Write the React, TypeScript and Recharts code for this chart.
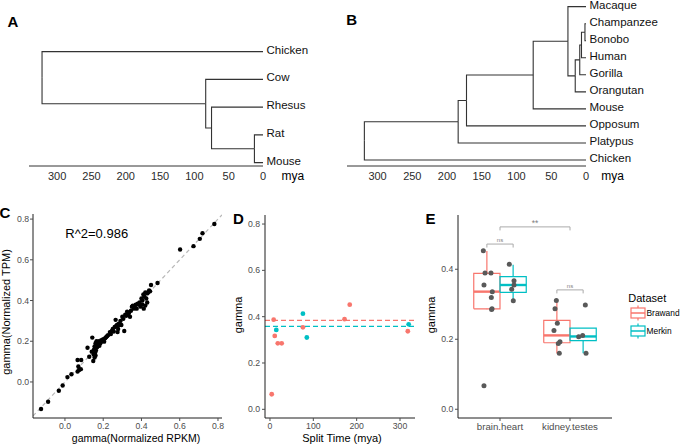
import {ComposedChart, Line, Scatter, XAxis, YAxis} from 'recharts';

const FONT = '"Liberation Sans", Arial, Helvetica, sans-serif';
const RED = '#F8766D';
const TEAL = '#00BFC4';
const AXIS = '#1f1f1f';
const TICK = '#4D4D4D';

// ---- panel A: tree (hclust-style merges, negative = tip, positive = earlier merge)
const treeATips = ['Chicken', 'Cow', 'Rhesus', 'Rat', 'Mouse'];
const treeAMerges = [[-4, -5], [-3, 1], [-2, 2], [-1, 3]];
const treeAHeights = [12.5, 75, 83.5, 322];

// ---- panel B: tree
const treeBTips = ['Macaque', 'Champanzee', 'Bonobo', 'Human', 'Gorilla', 'Orangutan', 'Mouse', 'Opposum', 'Platypus', 'Chicken'];
const treeBMerges = [[-2, -3], [-4, 1], [-5, 2], [-6, 3], [-1, 4], [-7, 5], [-8, 6], [-9, 7], [-10, 8]];
const treeBHeights = [1.5, 6.5, 9, 15.5, 26, 76, 172, 184, 319];

const treeTicks = [0, 50, 100, 150, 200, 250, 300];

// ---- panel C: gamma from RPKM vs TPM
const cRpkm = [
    -0.125, -0.088, -0.032, -0.012, 0.013, 0.034, 0.066, 0.085, 0.07, 0.074, 0.083, 0.066,
    0.118, 0.127, 0.143, 0.148, 0.14, 0.15, 0.152, 0.155, 0.158, 0.16, 0.162, 0.165, 0.168, 0.17,
    0.175, 0.178, 0.18, 0.185, 0.19, 0.195, 0.2, 0.205, 0.21, 0.215, 0.22, 0.225, 0.155, 0.16,
    0.235, 0.24, 0.245, 0.25, 0.255, 0.26, 0.265, 0.268, 0.272, 0.275, 0.278, 0.28, 0.285, 0.29,
    0.295, 0.3, 0.305, 0.31, 0.315, 0.32,
    0.325, 0.33, 0.335, 0.34, 0.345, 0.35, 0.355, 0.36, 0.365, 0.37, 0.375, 0.38, 0.385, 0.39,
    0.395, 0.4, 0.405, 0.41, 0.412, 0.415, 0.42, 0.425, 0.43, 0.435, 0.44, 0.445, 0.45, 0.43, 0.42, 0.405,
    0.484, 0.602, 0.672, 0.705, 0.719, 0.781,
];
const cTpm = [
    -0.133, -0.097, -0.043, -0.017, 0.024, 0.038, 0.108, 0.108, 0.076, 0.059, 0.063, 0.051,
    0.168, 0.124, 0.218, 0.103, 0.149, 0.135, 0.16, 0.175, 0.145, 0.19, 0.155, 0.2, 0.17, 0.185,
    0.195, 0.2, 0.178, 0.19, 0.205, 0.2, 0.21, 0.198, 0.215, 0.22, 0.225, 0.23, 0.12, 0.13,
    0.245, 0.235, 0.25, 0.26, 0.248, 0.27, 0.305, 0.275, 0.28, 0.245, 0.26, 0.285, 0.28, 0.3,
    0.28, 0.32, 0.31, 0.25, 0.33, 0.325,
    0.345, 0.33, 0.34, 0.32, 0.35, 0.37, 0.375, 0.36, 0.37, 0.38, 0.36, 0.385, 0.38, 0.39,
    0.37, 0.41, 0.4, 0.43, 0.36, 0.42, 0.44, 0.41, 0.435, 0.44, 0.45, 0.445, 0.476, 0.39, 0.375, 0.38,
    0.486, 0.651, 0.667, 0.703, 0.731, 0.776,
];
const cFitSlope = 1;
const cFitIntercept = 0;

// ---- panel D: gamma vs split time
const dBrawandSplit = [4, 8.5, 11, 18, 27, 76, 172, 184, 318];
const dBrawandGamma = [0.065, 0.387, 0.317, 0.285, 0.285, 0.354, 0.389, 0.452, 0.337];
const dMerkinSplit = [14.5, 76, 85, 320];
const dMerkinGamma = [0.343, 0.413, 0.31, 0.367];
const dMeans = [0.384, 0.358]; // Brawand, Merkin

// ---- panel E: boxplots (order: brain.heart Brawand, brain.heart Merkin, kidney.testes Brawand, kidney.testes Merkin)
const eCats = ['brain.heart', 'kidney.testes'];
const eDatasets = ['Brawand', 'Merkin'];
const eMin = [0.286, 0.308, 0.16, 0.16];
const eQ1 = [0.287, 0.334, 0.19, 0.196];
const eMedian = [0.336, 0.355, 0.211, 0.208];
const eQ3 = [0.388, 0.379, 0.254, 0.232];
const eMax = [0.452, 0.413, 0.311, 0.232];
const eJitterX = [0.762, 0.786, 0.871, 0.771, 0.89, 0.876, 0.886, 0.88, 0.771,
    1.133, 1.2, 1.167, 1.19, 1.2,
    1.805, 1.786, 1.819, 1.771, 1.857, 1.833, 1.847,
    2.219, 2.181, 2.124, 2.229];
const eJitterY = [0.453, 0.389, 0.389, 0.355, 0.336, 0.319, 0.287, 0.285, 0.067,
    0.414, 0.367, 0.343, 0.31, 0.355,
    0.311, 0.287, 0.246, 0.225, 0.193, 0.188, 0.16,
    0.298, 0.211, 0.207, 0.16];
const eCompareX1 = [1, 0.8125, 1.8125];
const eCompareX2 = [2, 1.1875, 2.1875];
const eCompareY = [0.521, 0.472, 0.341];
const eCompareLabel = ['**', 'ns', 'ns'];

type Pt = {x: number; y: number};

function buildTree(tips: string[], merges: number[][], heights: number[]): Pt[][] {
    const n = tips.length;
    const nodeY: number[] = [];
    const segs: Pt[][] = [];
    merges.forEach((pair, k) => {
        const h = heights[k];
        const kids = pair.map((c) => (c < 0 ? {y: n + c + 1, h: 0} : {y: nodeY[c - 1], h: heights[c - 1]}));
        const mid = (kids[0].y + kids[1].y) / 2;
        kids.forEach((kd) => segs.push([{x: h, y: mid}, {x: h, y: kd.y}, {x: kd.h, y: kd.y}]));
        nodeY.push(mid);
    });
    return segs;
}

function Txt({x, y, size, children, color = '#000', bold = false, rotate = false, anchor = 'middle'}: any) {
    const tx = anchor === 'middle' ? '-50%' : anchor === 'start' ? '0%' : '-100%';
    return (
        <div
            style={{
                position: 'absolute',
                left: x,
                top: y,
                fontSize: size,
                color,
                fontWeight: bold ? 700 : 400,
                whiteSpace: 'nowrap',
                lineHeight: 1,
                transform: `translate(${tx}, -50%)${rotate ? ' rotate(-90deg)' : ''}`,
            }}
        >
            {children}
        </div>
    );
}

const dot = (r: number, fill: string) => (p: any) => <circle cx={p.cx} cy={p.cy} r={r} fill={fill}/>;

function TreePanel({tips, merges, heights, left, width, margin, yAxisWidth, xMax, yDomain}: any) {
    const segs = buildTree(tips, merges, heights);
    const n = tips.length;
    const ticks = tips.map((_: string, i: number) => n - i);
    return (
        <div style={{position: 'absolute', left, top: 0}}>
            <ComposedChart width={width} height={200} margin={margin}>
                <XAxis type="number" dataKey="x" domain={[0, xMax]} reversed allowDataOverflow ticks={treeTicks}
                       interval={0} height={34} tickLine={false} tickSize={4} tickMargin={2}
                       axisLine={{stroke: '#333'}} tick={{fill: '#2b2b2b', fontSize: 11}}/>
                <YAxis type="number" dataKey="y" orientation="right" domain={yDomain} allowDataOverflow
                       ticks={ticks} interval={0} tickFormatter={(v: number) => tips[n - v]}
                       axisLine={false} tickLine={false} tickSize={2} tickMargin={1.5} width={yAxisWidth}
                       tick={{fill: '#111', fontSize: 11.5, dy: -2}}/>
                {segs.map((s, i) => (
                    <Line key={i} data={s} dataKey="y" type="linear" stroke="#333" strokeWidth={1.1}
                          dot={false} activeDot={false} isAnimationActive={false}/>
                ))}
            </ComposedChart>
        </div>
    );
}

export default function App() {
    const cPoints = cRpkm.map((x, i) => ({x, y: cTpm[i]}));
    const cX: [number, number] = [-0.167, 0.821];
    const cDiag = cX.map((x) => ({x, y: cFitIntercept + cFitSlope * x}));

    const dX: [number, number] = [-11.5, 334.6];
    const dBrawand = dBrawandSplit.map((x, i) => ({x, y: dBrawandGamma[i]}));
    const dMerkin = dMerkinSplit.map((x, i) => ({x, y: dMerkinGamma[i]}));

    const half = 0.1875;
    const eBoxes = eMin.map((_, k) => {
        const center = Math.floor(k / 2) + 1 + (k % 2 ? half : -half);
        return {
            color: k % 2 ? TEAL : RED,
            box: [
                {x: center - half, y: eQ1[k]}, {x: center + half, y: eQ1[k]}, {x: center + half, y: eQ3[k]},
                {x: center - half, y: eQ3[k]}, {x: center - half, y: eQ1[k]},
            ],
            upper: [{x: center, y: eQ3[k]}, {x: center, y: eMax[k]}],
            lower: [{x: center, y: eQ1[k]}, {x: center, y: eMin[k]}],
            median: [{x: center - half, y: eMedian[k]}, {x: center + half, y: eMedian[k]}],
        };
    });
    const eJitter = eJitterX.map((x, i) => ({x, y: eJitterY[i]}));
    const eBrackets = eCompareX1.map((x1, i) => [
        {x: x1, y: eCompareY[i] - 0.01}, {x: x1, y: eCompareY[i]},
        {x: eCompareX2[i], y: eCompareY[i]}, {x: eCompareX2[i], y: eCompareY[i] - 0.01},
    ]);
    const eLabels = eCompareX1.map((x1, i) => ({
        x: (x1 + eCompareX2[i]) / 2, y: eCompareY[i] + 0.012, label: eCompareLabel[i],
    }));

    return (
        <div style={{position: 'absolute', left: 0, top: 0, width: 680, height: 445, overflow: 'hidden',
            background: '#fff', fontFamily: FONT}}>
            <TreePanel tips={treeATips} merges={treeAMerges} heights={treeAHeights} left={0} width={340}
                       margin={{top: 40, right: 0, bottom: 0, left: 29}} yAxisWidth={77} xMax={341}
                       yDomain={[0.88, 5.42]}/>
            <TreePanel tips={treeBTips} merges={treeBMerges} heights={treeBHeights} left={340} width={340}
                       margin={{top: 0, right: 0, bottom: 0, left: 7}} yAxisWidth={94} xMax={344}
                       yDomain={[0.648, 10.39]}/>

            {/* C */}
            <div style={{position: 'absolute', left: 0, top: 200}}>
                <ComposedChart width={230} height={245} margin={{top: 14, right: 8, bottom: 0, left: 0}}>
                    <XAxis type="number" dataKey="x" domain={cX} allowDataOverflow ticks={[0, 0.2, 0.4, 0.6, 0.8]}
                           tickFormatter={(v: number) => v.toFixed(1)} interval={0} height={27} tickSize={3}
                           tickMargin={2.3} axisLine={{stroke: AXIS}} tickLine={{stroke: TICK}}
                           tick={{fill: TICK, fontSize: 8.7}}/>
                    <YAxis type="number" dataKey="y" domain={[-0.177, 0.825]} allowDataOverflow
                           ticks={[0, 0.2, 0.4, 0.6, 0.8]} tickFormatter={(v: number) => v.toFixed(1)} interval={0}
                           width={33} tickSize={3} tickMargin={0.8} axisLine={{stroke: AXIS}}
                           tickLine={{stroke: TICK}} tick={{fill: TICK, fontSize: 8.7}}/>
                    <Scatter data={cPoints} dataKey="y" fill="#000" shape={dot(2.2, '#000')} isAnimationActive={false}/>
                    <Line data={cDiag} dataKey="y" type="linear" stroke="#b8b8b8" strokeWidth={1.2}
                          strokeDasharray="4 3" dot={false} activeDot={false} isAnimationActive={false}/>
                </ComposedChart>
            </div>

            {/* D */}
            <div style={{position: 'absolute', left: 230, top: 200}}>
                <ComposedChart width={210} height={245} margin={{top: 15, right: 25, bottom: 0, left: 0}}>
                    <XAxis type="number" dataKey="x" domain={dX} allowDataOverflow ticks={[0, 100, 200, 300]}
                           interval={0} height={27} tickSize={3} tickMargin={2.3} axisLine={{stroke: AXIS}}
                           tickLine={{stroke: TICK}} tick={{fill: TICK, fontSize: 8.7}}/>
                    <YAxis type="number" dataKey="y" domain={[-0.0375, 0.839]} allowDataOverflow
                           ticks={[0, 0.2, 0.4, 0.6, 0.8]} tickFormatter={(v: number) => v.toFixed(1)} interval={0}
                           width={35} tickSize={3} tickMargin={2} axisLine={{stroke: AXIS}}
                           tickLine={{stroke: TICK}} tick={{fill: TICK, fontSize: 8.7}}/>
                    <Scatter data={dBrawand} dataKey="y" fill={RED} shape={dot(2.4, RED)} isAnimationActive={false}/>
                    <Scatter data={dMerkin} dataKey="y" fill={TEAL} shape={dot(2.4, TEAL)} isAnimationActive={false}/>
                    {dMeans.map((m, i) => (
                        <Line key={i} data={dX.map((x) => ({x, y: m}))} dataKey="y" type="linear"
                              stroke={i ? TEAL : RED} strokeWidth={1.2} strokeDasharray="5 3" dot={false}
                              activeDot={false} isAnimationActive={false}/>
                    ))}
                </ComposedChart>
            </div>

            {/* E */}
            <div style={{position: 'absolute', left: 430, top: 200}}>
                <ComposedChart width={250} height={245} margin={{top: 15, right: 68, bottom: 0, left: 0}}>
                    <XAxis type="number" dataKey="x" domain={[0.4, 2.6]} allowDataOverflow ticks={[1, 2]}
                           tickFormatter={(v: number) => eCats[v - 1]} interval={0} height={27} tickSize={3}
                           tickMargin={2} axisLine={{stroke: AXIS}} tickLine={{stroke: TICK}}
                           tick={{fill: TICK, fontSize: 9.7}}/>
                    <YAxis type="number" dataKey="y" domain={[-0.025, 0.555]} allowDataOverflow ticks={[0, 0.2, 0.4]}
                           tickFormatter={(v: number) => v.toFixed(1)} interval={0} width={28} tickSize={3}
                           tickMargin={1.7} axisLine={{stroke: AXIS}} tickLine={{stroke: TICK}}
                           tick={{fill: TICK, fontSize: 8.7}}/>
                    {eBoxes.map((b, k) => [
                        <Line key={`b${k}`} data={b.box} dataKey="y" type="linear" stroke={b.color} strokeWidth={1.2}
                              dot={false} activeDot={false} isAnimationActive={false}/>,
                        <Line key={`u${k}`} data={b.upper} dataKey="y" type="linear" stroke={b.color}
                              strokeWidth={1.2} dot={false} activeDot={false} isAnimationActive={false}/>,
                        <Line key={`l${k}`} data={b.lower} dataKey="y" type="linear" stroke={b.color}
                              strokeWidth={1.2} dot={false} activeDot={false} isAnimationActive={false}/>,
                        <Line key={`m${k}`} data={b.median} dataKey="y" type="linear" stroke={b.color}
                              strokeWidth={2.4} dot={false} activeDot={false} isAnimationActive={false}/>,
                    ])}
                    <Scatter data={eJitter} dataKey="y" fill="#595959" shape={dot(2.5, '#595959')}
                             isAnimationActive={false}/>
                    {eBrackets.map((br, i) => (
                        <Line key={`br${i}`} data={br} dataKey="y" type="linear" stroke="#aaaaaa" strokeWidth={1}
                              dot={false} activeDot={false} isAnimationActive={false}/>
                    ))}
                    <Scatter data={eLabels} dataKey="y" isAnimationActive={false}
                             shape={(p: any) => (
                                 <text x={p.cx} y={p.cy} textAnchor="middle" dominantBaseline="central"
                                       fontSize={p.payload.label === '**' ? 8.5 : 6} fill="#808080">
                                     {p.payload.label}
                                 </text>
                             )}/>
                </ComposedChart>
            </div>

            {/* legend for E */}
            <Txt x={628.3} y={298.3} size={11} anchor="start">Dataset</Txt>
            {eDatasets.map((name, i) => {
                const cy = 313.3 + i * 17.4;
                const col = i ? TEAL : RED;
                return (
                    <div key={name}>
                        <svg width={16} height={18} style={{position: 'absolute', left: 629.5, top: cy - 9}}>
                            <line x1={8} y1={1.5} x2={8} y2={4} stroke={col} strokeWidth={1.2}/>
                            <rect x={1} y={4} width={14} height={10} fill="#fff" stroke={col} strokeWidth={1.2}/>
                            <line x1={1} y1={9} x2={15} y2={9} stroke={col} strokeWidth={1.5}/>
                            <line x1={8} y1={14} x2={8} y2={16.5} stroke={col} strokeWidth={1.2}/>
                        </svg>
                        <Txt x={646.5} y={cy} size={8.4} anchor="start">{name}</Txt>
                    </div>
                );
            })}

            {/* panel letters and titles */}
            <Txt x={12.8} y={20.5} size={15} bold>A</Txt>
            <Txt x={351.7} y={18.7} size={15} bold>B</Txt>
            <Txt x={5} y={212} size={15} bold>C</Txt>
            <Txt x={238.3} y={218.3} size={15} bold>D</Txt>
            <Txt x={430.5} y={218.3} size={15} bold>E</Txt>
            <Txt x={292.8} y={175.7} size={12}>mya</Txt>
            <Txt x={612.5} y={175.7} size={12}>mya</Txt>
            <Txt x={96.7} y={233.3} size={13}>R^2=0.986</Txt>
            <Txt x={136} y={438} size={10.5}>gamma(Normalized RPKM)</Txt>
            <Txt x={6} y={312} size={11} rotate>gamma(Normalized TPM)</Txt>
            <Txt x={237.8} y={315} size={11} rotate>gamma</Txt>
            <Txt x={342} y={438.3} size={11}>Split Time (mya)</Txt>
            <Txt x={431} y={315} size={11} rotate>gamma</Txt>
        </div>
    );
}
